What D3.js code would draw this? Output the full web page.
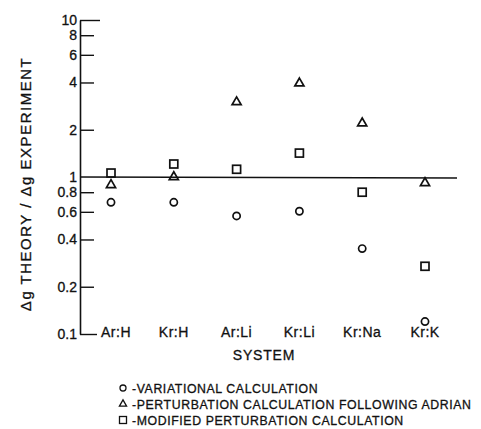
<!DOCTYPE html>
<html>
<head>
<meta charset="utf-8">
<script src="https://cdn.jsdelivr.net/npm/d3@7"></script>
<style>
  body { margin: 0; background: #fff; }
  text { font-family: "Liberation Sans", Arial, sans-serif; fill: #111; stroke: #111; stroke-width: 0.3; }
</style>
</head>
<body>
<svg width="481" height="429"></svg>
<script>
// data
const systems = ["Ar:H", "Kr:H", "Ar:Li", "Kr:Li", "Kr:Na", "Kr:K"];
const variational = [0.69, 0.69, 0.565, 0.605, 0.35, 0.12];
const perturbation = [0.89, 1.0, 3.0, 3.95, 2.2, 0.915];
const modified = [1.06, 1.21, 1.12, 1.42, 0.80, 0.27];
const tickVals = [10, 8, 6, 4, 2, 1, 0.8, 0.6, 0.4, 0.2, 0.1];
const legendItems = [
  "-VARIATIONAL CALCULATION",
  "-PERTURBATION CALCULATION FOLLOWING ADRIAN",
  "-MODIFIED  PERTURBATION CALCULATION"
];

let svg = d3.select("svg");
const ink = "#111";

let y = d3.scaleLog().domain([0.1, 10]).range([334, 20]);
let x = d3.scalePoint().domain(systems).range([111, 425]);
const axisX = 80;

// y axis, ticks pointing inward
let yAxis = d3.axisLeft(y)
  .tickValues(tickVals)
  .tickSize(-14)
  .tickSizeOuter(0)
  .tickPadding(3)
  .tickFormat((d) => (d >= 1 ? d3.format("d")(d) : d3.format(".1f")(d)));

let ax = svg.append("g")
  .attr("transform", `translate(${axisX},0)`)
  .call(yAxis);
ax.select(".domain").attr("stroke", ink).attr("stroke-width", 1.6);
ax.selectAll(".tick line")
  .attr("stroke", ink)
  .attr("stroke-width", 1.4)
  .attr("x2", (d) => (d === 10 ? 20 : d === 0.1 ? 17 : d === 1 ? 0 : 14));
ax.selectAll(".tick text")
  .attr("font-size", 14)
  .attr("fill", ink)
  .style("font-family", "Liberation Sans, Arial, sans-serif");

// reference line at 1
svg.append("line")
  .attr("x1", axisX).attr("x2", 457)
  .attr("y1", y(1)).attr("y2", y(1) + 1)
  .attr("stroke", ink).attr("stroke-width", 1.5);

// category labels
svg.append("g").selectAll("text")
  .data(systems)
  .enter()
  .append("text")
  .attr("x", (d, i) => x(d) + (i === 0 ? 5 : 0))
  .attr("y", y(0.1) + 3)
  .attr("text-anchor", "middle")
  .attr("font-size", 14)
  .attr("letter-spacing", 0.5)
  .text((d) => d);

// markers
let g = svg.append("g")
  .attr("fill", "none")
  .attr("stroke", ink)
  .attr("stroke-width", 1.7);

g.selectAll("circle")
  .data(variational)
  .enter()
  .append("circle")
  .attr("cx", (d, i) => x(systems[i]))
  .attr("cy", (d) => y(d))
  .attr("r", 3.6);

let tri = d3.symbol().type(d3.symbolTriangle).size(36);
g.selectAll("path.tri")
  .data(perturbation)
  .enter()
  .append("path")
  .attr("class", "tri")
  .attr("d", tri)
  .attr("transform", (d, i) => `translate(${x(systems[i])},${y(d)})`);

g.selectAll("rect")
  .data(modified)
  .enter()
  .append("rect")
  .attr("x", (d, i) => x(systems[i]) - 4)
  .attr("y", (d) => y(d) - 4)
  .attr("width", 8)
  .attr("height", 8);

// axis titles
svg.append("text")
  .attr("x", 264)
  .attr("y", 360)
  .attr("text-anchor", "middle")
  .attr("font-size", 14)
  .attr("letter-spacing", 0.8)
  .text("SYSTEM");

svg.append("text")
  .attr("transform", "translate(31,184) rotate(-90)")
  .attr("text-anchor", "middle")
  .attr("font-size", 15)
  .attr("letter-spacing", 1.5)
  .text("\u0394g THEORY / \u0394g EXPERIMENT");

// legend
let leg = svg.append("g").attr("transform", "translate(123,388)");
leg.selectAll("text")
  .data(legendItems)
  .enter()
  .append("text")
  .attr("x", 9)
  .attr("y", (d, i) => i * 16 + 5)
  .attr("font-size", 12.3)
  .attr("letter-spacing", 0.6)
  .text((d) => d);

let lg = leg.append("g")
  .attr("fill", "none")
  .attr("stroke", ink)
  .attr("stroke-width", 1.3);
lg.append("circle").attr("cx", 0).attr("cy", 0).attr("r", 3);
lg.append("path")
  .attr("d", d3.symbol().type(d3.symbolTriangle).size(22))
  .attr("transform", "translate(0,16)");
lg.append("rect").attr("x", -3.5).attr("y", 28.5).attr("width", 7).attr("height", 7);
</script>
</body>
</html>
